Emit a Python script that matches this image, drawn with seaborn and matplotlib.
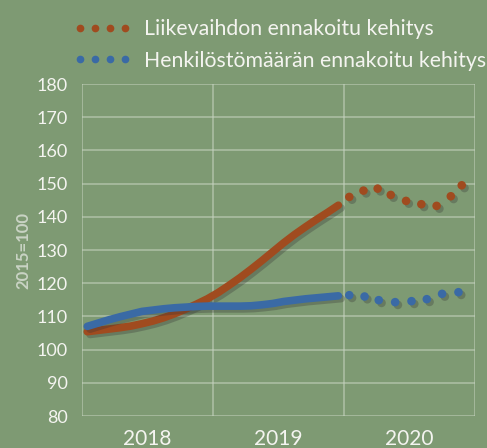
import numpy as np
import pandas as pd
import matplotlib.pyplot as plt
import matplotlib.patheffects as pe
from matplotlib.lines import Line2D
import seaborn as sns

# toteutunut kehitys kuukausittain 2018-2019 (2015=100)
liikevaihto = [105.4, 105.8, 106.2, 106.6, 107.1, 107.8, 108.6, 109.6, 110.8, 112.2, 113.7, 115.3,
               117.2, 119.4, 121.7, 124.2, 126.8, 129.5, 132.2, 134.7, 137.0, 139.2, 141.3, 143.5]
henkilosto = [107.0, 108.0, 109.0, 109.9, 110.7, 111.5, 111.9, 112.3, 112.6, 112.8, 113.0, 113.1,
              113.1, 113.1, 113.1, 113.2, 113.5, 113.9, 114.5, 114.9, 115.3, 115.6, 115.9, 116.2]

# ennusteet 2020 (kuukausina vuoden 2018 alusta)
ennuste_lv_kk = [24.5, 25.8, 27.1, 28.3, 29.7, 31.1, 32.5, 33.8, 34.8]
ennuste_lv = [146.0, 147.9, 148.5, 146.6, 144.8, 143.8, 143.3, 146.2, 149.5]
ennuste_hk_kk = [24.5, 25.9, 27.2, 28.7, 30.2, 31.6, 33.0, 34.5]
ennuste_hk = [116.4, 116.0, 114.9, 114.3, 114.6, 115.2, 116.8, 117.3]

vuodet = ["2018", "2019", "2020"]

BG = "#7e9a73"
ORANSSI = "#a04b1f"
SININEN = "#3a6aa5"
TEKSTI = "#f4f4f0"

plt.rcParams['font.family'] = ['Lato', 'DejaVu Sans']

kk = np.arange(len(liikevaihto)) + 0.5
df = pd.DataFrame({'kk': np.concatenate([kk, kk]),
                   'arvo': liikevaihto + henkilosto,
                   'sarja': ['lv'] * len(kk) + ['hk'] * len(kk)})
df_e = pd.DataFrame({'kk': ennuste_lv_kk + ennuste_hk_kk,
                     'arvo': ennuste_lv + ennuste_hk,
                     'sarja': ['lv'] * len(ennuste_lv) + ['hk'] * len(ennuste_hk)})

fig = plt.figure(figsize=(4.87, 4.48), dpi=100, facecolor=BG)
ax = fig.add_axes([0.168, 0.0714, 0.807, 0.741], facecolor=BG)

varit = {'lv': ORANSSI, 'hk': SININEN}
varjo = [pe.SimpleLineShadow(offset=(2, -2), alpha=0.3, shadow_color='#333333'), pe.Normal()]

sns.lineplot(data=df, x='kk', y='arvo', hue='sarja', palette=varit, linewidth=5.5,
             legend=False, ax=ax, solid_capstyle='round')
for ln in ax.lines:
    ln.set_path_effects(varjo)
sns.scatterplot(data=df_e, x='kk', y='arvo', hue='sarja', palette=varit, s=38,
                linewidth=0, legend=False, ax=ax)
for c in ax.collections:
    c.set_path_effects([pe.SimplePatchShadow(offset=(2, -2), alpha=0.3, shadow_rgbFace='#333333'),
                        pe.Normal()])

ax.set_xlim(0, 36)
ax.set_ylim(80, 180)
ax.set_yticks(range(80, 181, 10))
ax.set_xticks([0, 12, 24, 36])
ax.set_xticks([6, 18, 30], minor=True)
ax.set_xticklabels([])
ax.set_xticklabels(vuodet, minor=True)
ax.grid(True, color='#c8d4c2', linewidth=1.2, alpha=0.6)
ax.set_axisbelow(True)
for s in ax.spines.values():
    s.set_visible(False)
ax.tick_params(axis='both', which='both', length=0)
ax.tick_params(axis='y', labelsize=13, labelcolor=TEKSTI, pad=10)
ax.tick_params(axis='x', which='minor', labelsize=15, labelcolor=TEKSTI, pad=9)
ax.set_xlabel('')
ax.set_ylabel('2015=100', color='#c9d3c4', fontsize=12, fontweight='bold')
ax.yaxis.set_label_coords(-0.128, 0.5)

kahvat = [Line2D([], [], ls='none', marker='o', markersize=4.5, color=ORANSSI),
          Line2D([], [], ls='none', marker='o', markersize=4.5, color=SININEN)]
fig.legend(kahvat, ['Liikevaihdon ennakoitu kehitys', 'Henkilöstömäärän ennakoitu kehitys'],
           loc='upper left', bbox_to_anchor=(0.112, 1.0), frameon=False, numpoints=4,
           handlelength=2.7, handletextpad=0.6, labelspacing=0.55, fontsize=15.3,
           labelcolor=TEKSTI)

fig.savefig("out.png", dpi=100, facecolor=BG)
